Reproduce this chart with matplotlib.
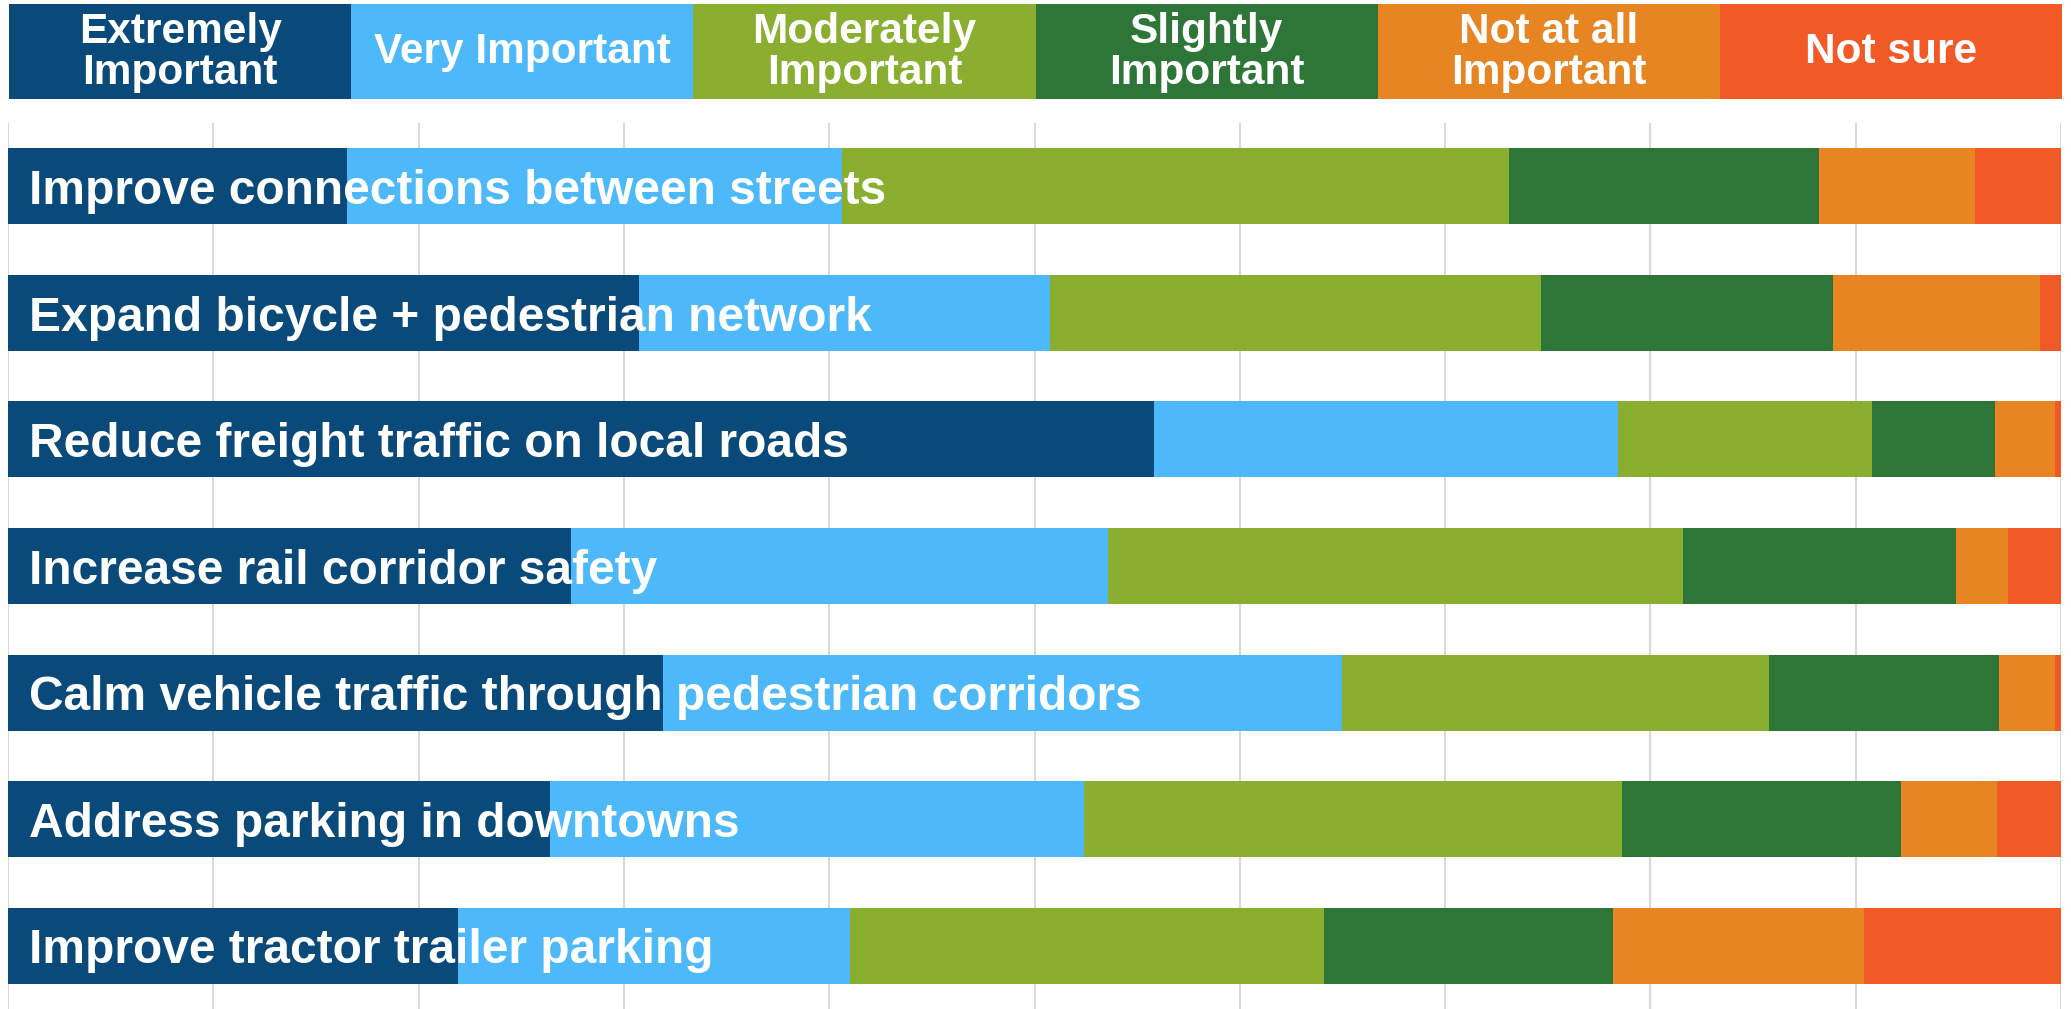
import numpy as np
import matplotlib
matplotlib.use("Agg")
import matplotlib.pyplot as plt

# === Data (percent of responses) ===
temi = [
    "Improve connections between streets",
    "Expand bicycle + pedestrian network",
    "Reduce freight traffic on local roads",
    "Increase rail corridor safety",
    "Calm vehicle traffic through pedestrian corridors",
    "Address parking in downtowns",
    "Improve tractor trailer parking",
]
categorie = ["Extremely\nImportant", "Very Important", "Moderately\nImportant",
             "Slightly\nImportant", "Not at all\nImportant", "Not sure"]
colori = ["#0A4A7A", "#4DB9FA", "#8AAF30", "#2E7638", "#E68522", "#F15A27"]

extremely = [16.5, 30.75, 55.8, 27.4, 31.9, 26.4, 21.9]
very = [24.1, 20.0, 22.6, 26.2, 33.1, 26.0, 19.1]
moderately = [32.5, 23.9, 12.4, 28.0, 20.8, 26.2, 23.1]
slightly = [15.1, 14.25, 6.0, 13.3, 11.2, 13.6, 14.1]
not_at_all = [7.6, 10.1, 2.9, 2.5, 2.7, 4.7, 12.2]
not_sure = [4.2, 1.0, 0.3, 2.6, 0.3, 3.1, 9.6]

serie = [extremely, very, moderately, slightly, not_at_all, not_sure]

W, H = 2071, 1009
fig = plt.figure(figsize=(W / 100, H / 100), dpi=100)
plt.rcParams["font.family"] = ["Liberation Sans", "DejaVu Sans"]

# === Main chart ===
ax = fig.add_axes([8 / W, 0, 2053 / W, 886 / H])
y = np.arange(len(temi))
left = np.zeros(len(temi))
for vals, col in zip(serie, colori):
    ax.barh(y, vals, left=left, height=0.6, color=col, edgecolor="none", zorder=2)
    left += np.array(vals)

for i, t in enumerate(temi):
    ax.text(1.0, i + 0.14, t, color="white", fontsize=34.5, fontweight="bold",
            va="baseline", ha="left", zorder=3)

ax.set_xlim(0, 100)
ax.set_ylim(len(temi) - 0.5, -0.5)
ax.set_xticks(np.arange(0, 101, 10))
ax.grid(axis="x", color="#D9D9D9", linewidth=1.5, zorder=0)
ax.tick_params(length=0, labelbottom=False, labelleft=False)
ax.set_yticks([])
for s in ax.spines.values():
    s.set_visible(False)
ax.set_axisbelow(True)

# === Legend as a row of boxes ===
lax = fig.add_axes([9 / W, (H - 99) / H, 2053 / W, 95 / H])
for k, (cat, col) in enumerate(zip(categorie, colori)):
    lax.barh(0, 1, left=k, height=1, color=col, edgecolor="none")
    lax.text(k + 0.5, -0.01, cat, color="white", fontsize=30.5, fontweight="bold",
             ha="center", va="center", multialignment="center", linespacing=1.05)
lax.set_xlim(0, len(categorie))
lax.set_ylim(-0.5, 0.5)
lax.axis("off")

fig.savefig("out.png", dpi=100)
